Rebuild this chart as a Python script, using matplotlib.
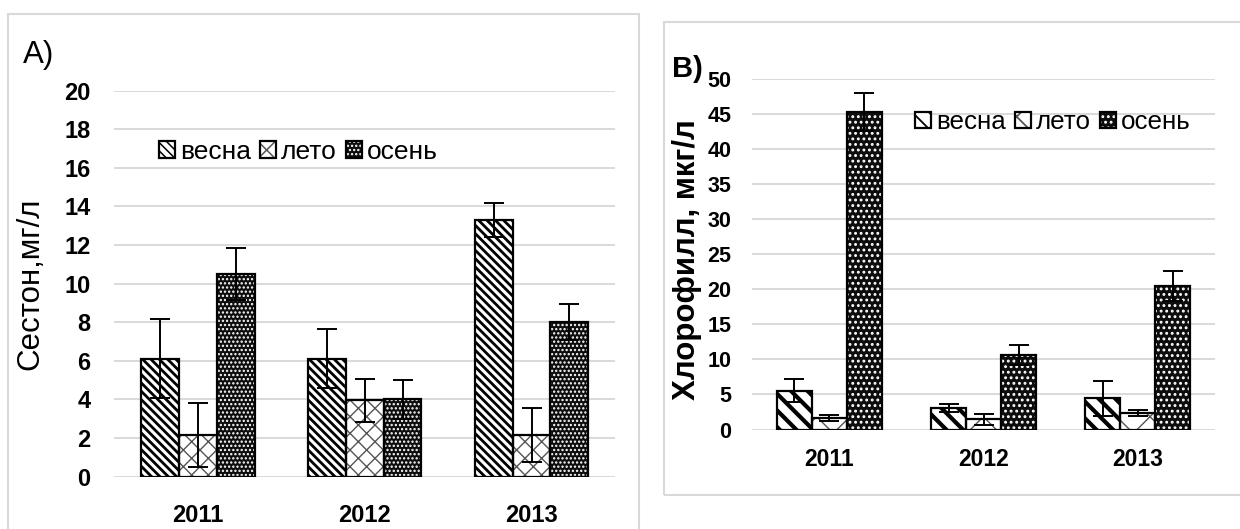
import matplotlib
matplotlib.use("Agg")
import matplotlib.pyplot as plt
import numpy as np
from matplotlib.patches import Rectangle
from matplotlib.legend_handler import HandlerTuple

plt.rcParams['font.family'] = ['Liberation Sans', 'DejaVu Sans']

years = ['2011', '2012', '2013']
seasons = ['весна', 'лето', 'осень']

# Panel A: seston, mg/l
seston_spring = [6.1, 6.1, 13.3]
seston_spring_err = [2.05, 1.53, 0.9]
seston_summer = [2.15, 3.95, 2.15]
seston_summer_err = [1.65, 1.12, 1.4]
seston_autumn = [10.5, 4.0, 8.0]
seston_autumn_err = [1.35, 1.0, 0.92]
seston_ticks = [0, 2, 4, 6, 8, 10, 12, 14, 16, 18, 20]

# Panel B: chlorophyll, ug/l
chl_spring = [5.55, 3.1, 4.43]
chl_spring_err = [1.63, 0.57, 2.48]
chl_summer = [1.6, 1.43, 2.3]
chl_summer_err = [0.42, 0.8, 0.44]
chl_autumn = [45.3, 10.7, 20.5]
chl_autumn_err = [2.7, 1.42, 2.18]
chl_ticks = [0, 5, 10, 15, 20, 25, 30, 35, 40, 45, 50]

W, H = 1240, 529
fig = plt.figure(figsize=(W / 100, H / 100), dpi=100)

# panel frames
fig.add_artist(Rectangle((8 / W, -0.05), (639 - 8) / W, (529 - 13.5) / H + 0.05,
                         transform=fig.transFigure, fill=False,
                         edgecolor='#d9d9d9', linewidth=1.5))
fig.add_artist(Rectangle((664 / W, (529 - 495) / H), 0.5, (495 - 22) / H,
                         transform=fig.transFigure, fill=False,
                         edgecolor='#d9d9d9', linewidth=1.5))

axA = fig.add_axes([114.3 / W, (529 - 476.6) / H, 500.7 / W, (476.6 - 90.7) / H])
axB = fig.add_axes([752.3 / W, (529 - 429.5) / H, 462.7 / W, (429.5 - 79.3) / H])

x = np.arange(len(years))
bw = 0.227


def draw_series(ax, off, vals, errs, hatch, face, hcolor, hlw):
    plt.rcParams['hatch.linewidth'] = hlw
    hb = ax.bar(x + off, vals, bw, color=face, edgecolor=hcolor, hatch=hatch,
                linewidth=0, zorder=2)
    for b in hb:
        if hasattr(b, 'set_hatch_linewidth'):
            b.set_hatch_linewidth(hlw)
    bb = ax.bar(x + off, vals, bw, fill=False, edgecolor='black',
                linewidth=1.6, zorder=3)
    ax.errorbar(x + off, vals, yerr=errs, fmt='none', ecolor='black',
                elinewidth=1.4, capsize=7.5, capthick=1.4, zorder=4)
    return (hb[0], bb[0])


def style(ax, ticks, ymax, tick_fs, tick_pad, year_fs, year_pad):
    ax.set_xlim(-0.5, 2.5)
    ax.set_ylim(0, ymax)
    ax.set_yticks(ticks)
    ax.set_xticks(x)
    ax.set_xticklabels(years)
    for s in ax.spines.values():
        s.set_visible(False)
    ax.yaxis.grid(True, color='#d9d9d9', linewidth=1.4)
    ax.set_axisbelow(True)
    ax.tick_params(axis='both', length=0)
    ax.tick_params(axis='y', labelsize=tick_fs, pad=tick_pad)
    ax.tick_params(axis='x', labelsize=year_fs, pad=year_pad)
    for lab in ax.get_yticklabels() + ax.get_xticklabels():
        lab.set_fontweight('bold')


# Panel A
hA1 = draw_series(axA, -bw, seston_spring, seston_spring_err, '\\\\\\\\', 'white', 'black', 2.0)
hA2 = draw_series(axA, 0, seston_summer, seston_summer_err, 'xx', 'white', '#555555', 1.0)
hA3 = draw_series(axA, bw, seston_autumn, seston_autumn_err, '....', '#0d0d0d', 'white', 1.1)
style(axA, seston_ticks, 20, 17, 17, 17, 20)
axA.set_ylabel('Сестон,мг/л', fontsize=22.5)
axA.yaxis.label.set_va('center')
axA.yaxis.set_label_coords(-0.167, 0.50)
axA.legend([hA1, hA2, hA3], seasons, handler_map={tuple: HandlerTuple(ndivide=1)},
           loc='center', bbox_to_anchor=(298.5 / W, (529 - 152) / H),
           bbox_transform=fig.transFigure, ncol=3, frameon=False, fontsize=19,
           handlelength=0.6, handleheight=0.6, handletextpad=0.2,
           columnspacing=0.35, borderpad=0, borderaxespad=0)
fig.text(23 / W, (529 - 63.3) / H, 'A)', fontsize=22.5, va='baseline', ha='left')

# Panel B
hB1 = draw_series(axB, -bw, chl_spring, chl_spring_err, '\\\\', 'white', 'black', 3.0)
hB2 = draw_series(axB, 0, chl_summer, chl_summer_err, 'x', 'white', '#555555', 1.0)
hB3 = draw_series(axB, bw, chl_autumn, chl_autumn_err, '...', '#0d0d0d', 'white', 1.3)
style(axB, chl_ticks, 50, 15.5, 15, 16.5, 13.5)
axB.set_ylabel('Хлорофилл, мкг/л', fontsize=22.5, fontweight='bold')
axB.yaxis.label.set_va('center')
axB.yaxis.set_label_coords(-0.141, 0.484)
axB.legend([hB1, hB2, hB3], seasons, handler_map={tuple: HandlerTuple(ndivide=1)},
           loc='center', bbox_to_anchor=(1053 / W, (529 - 122) / H),
           bbox_transform=fig.transFigure, ncol=3, frameon=False, fontsize=18.7,
           handlelength=0.6, handleheight=0.6, handletextpad=0.2,
           columnspacing=0.35, borderpad=0, borderaxespad=0)
fig.text(672 / W, (529 - 76.7) / H, 'B)', fontsize=21, fontweight='bold',
         va='baseline', ha='left')

fig.savefig('out.png', dpi=100)
